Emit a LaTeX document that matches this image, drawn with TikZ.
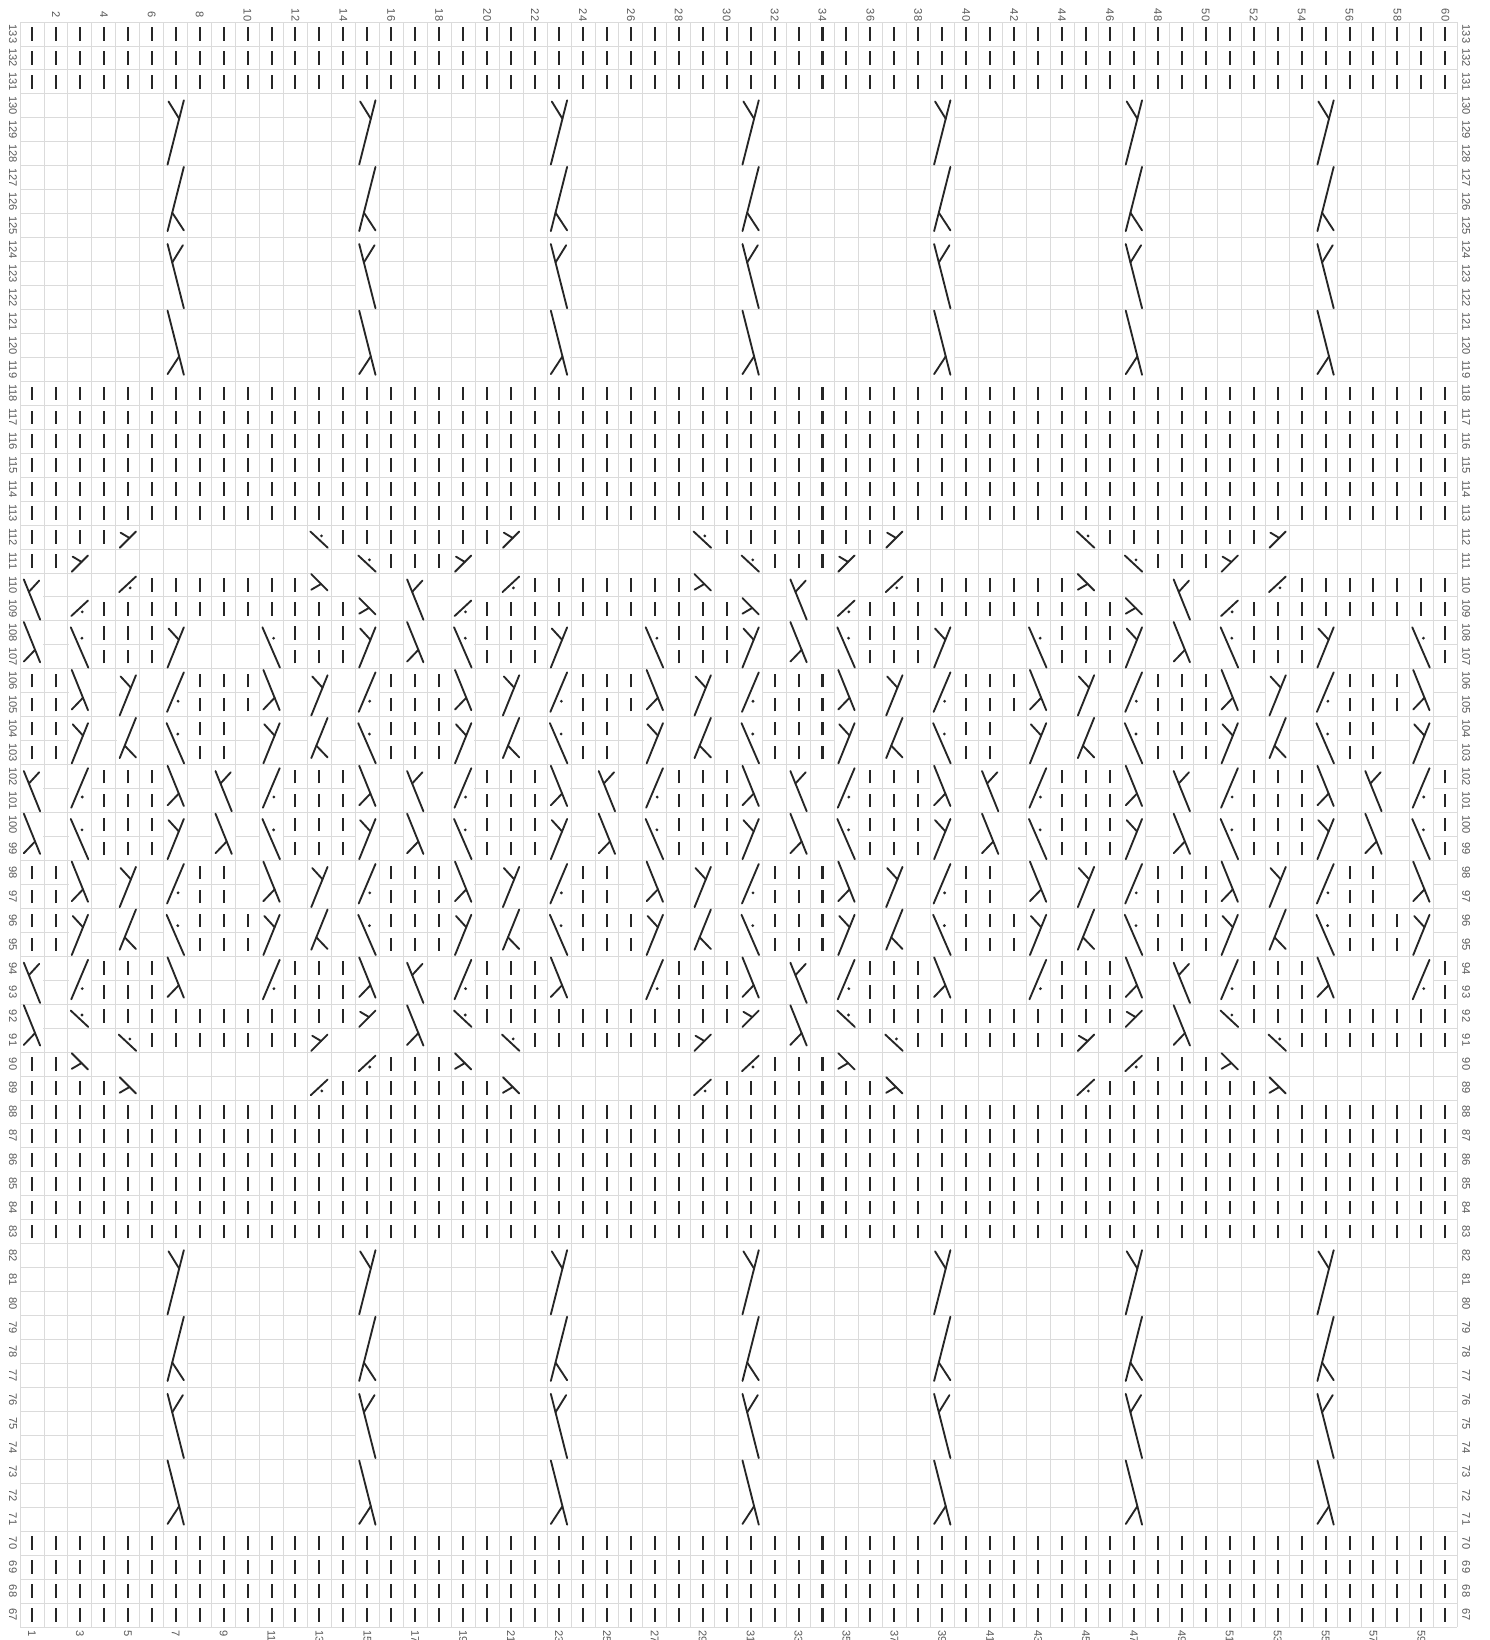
\documentclass[tikz,border=0pt]{standalone}
\usepackage{fontspec}
\setmainfont{Liberation Sans}

\tikzset{
  gridline/.style={gray!28, line width=0.5pt},
  knit/.style={black!85, line width=1.2pt},
  stitch/.style={black!85, line width=1.1pt, line cap=round},
  num/.style={font=\fontsize{6.6}{7}\selectfont, text=black!65, rotate=-90, inner sep=0pt}
}

% plain stitch: column #1, row #2
\newcommand{\chBar}[2]{\draw[knit] ({#1-0.5},{#2-0.78}) -- ({#1-0.5},{#2-0.22});}
% crossings: column #1, lowest row #2, #3 rows high
\newcommand{\chCell}[3]{\fill[white] ({#1-0.97},{#2-0.97}) rectangle ({#1-0.03},{#2+#3-1.03});}
\newcommand{\chSlTop}[3]{%
  \chCell{#1}{#2}{#3}
  \pgfmathsetmacro\chjf{1-(0.27+0.25*(#3-1))/(#3-0.32)}
  \draw[stitch] ({#1-0.84},{#2-0.95}) -- ({#1-0.16},{#2+#3-1.27}) coordinate[pos=\chjf] (jn);
  \draw[stitch] (jn) -- ({#1-0.8},{#2+#3-1.32});}
\newcommand{\chSlBot}[3]{%
  \chCell{#1}{#2}{#3}
  \pgfmathsetmacro\chjf{(0.27+0.25*(#3-1))/(#3-0.32)}
  \draw[stitch] ({#1-0.84},{#2-0.73}) -- ({#1-0.16},{#2+#3-1.05}) coordinate[pos=\chjf] (jn);
  \draw[stitch] (jn) -- ({#1-0.16},{#2-0.7});}
\newcommand{\chBkTop}[3]{%
  \chCell{#1}{#2}{#3}
  \pgfmathsetmacro\chjf{(0.27+0.25*(#3-1))/(#3-0.32)}
  \draw[stitch] ({#1-0.84},{#2+#3-1.27}) -- ({#1-0.16},{#2-0.95}) coordinate[pos=\chjf] (jn);
  \draw[stitch] (jn) -- ({#1-0.2},{#2+#3-1.32});}
\newcommand{\chBkBot}[3]{%
  \chCell{#1}{#2}{#3}
  \pgfmathsetmacro\chjf{1-(0.27+0.25*(#3-1))/(#3-0.32)}
  \draw[stitch] ({#1-0.84},{#2+#3-1.05}) -- ({#1-0.16},{#2-0.73}) coordinate[pos=\chjf] (jn);
  \draw[stitch] (jn) -- ({#1-0.84},{#2-0.7});}
\newcommand{\chBkDot}[3]{%
  \chCell{#1}{#2}{#3}
  \draw[stitch] ({#1-0.88},{#2+#3-1.27}) -- ({#1-0.15},{#2-0.95}) coordinate[pos=0.27] (dt);
  \fill[black!85] (dt) ++(0.27,0) circle[radius=0.065];}
\newcommand{\chSlDot}[3]{%
  \chCell{#1}{#2}{#3}
  \draw[stitch] ({#1-0.86},{#2-0.8}) -- ({#1-0.16},{#2+#3-1.15}) coordinate[pos=0.27] (dt);
  \fill[black!85] (dt) ++(0.27,0) circle[radius=0.065];}

\begin{document}
\begin{tikzpicture}[x=0.5cm, y=0.5cm]
  \useasboundingbox (-0.835,65.457) rectangle (61.336,133.919);
  \fill[white] (-0.835,65.457) rectangle (61.336,133.919);

  \draw[gridline, step=1] (0,66) grid (60,133);

  % numbers round the chart
  \foreach \c in {2,4,...,60}
    \node[num] (top-\c) at ({\c-0.5},133.29) {\c};
  \foreach \c in {1,3,...,59}
    \node[num, anchor=west] (bot-\c) at ({\c-0.5},65.87) {\c};
  \foreach \r in {67,...,133} {
    \node[num] (left-\r) at (-0.29,{\r-0.5}) {\r};
    \node[num] (right-\r) at (60.37,{\r-0.5}) {\r};
  }

  % plain bands
  \foreach \a/\b in {67/70, 83/88, 113/118, 131/133}
    \foreach \r in {\a,...,\b}
      \foreach \c in {1,...,60}
        \chBar{\c}{\r};

  % twisted columns
  \foreach \c in {7,15,...,55}
    \foreach \b in {119,71} {
      \chBkBot{\c}{\b}{3}
      \chBkTop{\c}{\b+3}{3}
      \chSlBot{\c}{\b+6}{3}
      \chSlTop{\c}{\b+9}{3}
    }

  % diamond band, repeat of 16 stitches
  \begin{scope}
    \clip (0,88) rectangle (60,112);
    \foreach \k in {0,16,32,48} {
      \foreach \r/\cols in {112/{1,2,3,4,14,15,16}, 111/{1,2,16}, 110/{6,...,12},
          109/{4,...,14}, 108/{4,5,6,12,13,14}, 107/{4,5,6,12,13,14},
          106/{1,2,8,9,10,16}, 105/{1,2,8,9,10,16}, 104/{1,2,8,9,16}, 103/{1,2,8,9,16},
          102/{4,5,6,12,13,14}, 101/{4,5,6,12,13,14}, 100/{4,5,6,12,13,14},
          99/{4,5,6,12,13,14}, 98/{1,2,8,9,16}, 97/{1,2,8,9,16},
          96/{1,2,8,9,10,16}, 95/{1,2,8,9,10,16}, 94/{4,5,6,12,13,14},
          93/{4,5,6,12,13,14}, 92/{4,...,14}, 91/{6,...,12}, 90/{1,2,16},
          89/{1,2,3,4,14,15,16}}
        \foreach \c in \cols
          \chBar{\c+\k}{\r};

      % one-row crossings
      \chSlTop{5+\k}{112}{1} \chBkDot{13+\k}{112}{1}
      \chSlTop{3+\k}{111}{1} \chBkDot{15+\k}{111}{1}
      \chSlDot{5+\k}{110}{1} \chBkBot{13+\k}{110}{1}
      \chSlDot{3+\k}{109}{1} \chBkBot{15+\k}{109}{1}
      \chBkDot{3+\k}{92}{1} \chSlTop{15+\k}{92}{1}
      \chBkDot{5+\k}{91}{1} \chSlTop{13+\k}{91}{1}
      \chBkBot{3+\k}{90}{1} \chSlDot{15+\k}{90}{1}
      \chBkBot{5+\k}{89}{1} \chSlDot{13+\k}{89}{1}

      % two-row crossings
      \chBkTop{1+\k}{109}{2}
      \chBkBot{1+\k}{107}{2} \chBkDot{3+\k}{107}{2} \chSlTop{7+\k}{107}{2}
      \chBkDot{11+\k}{107}{2} \chSlTop{15+\k}{107}{2}
      \foreach \r in {105,97} {
        \chBkBot{3+\k}{\r}{2} \chSlTop{5+\k}{\r}{2} \chSlDot{7+\k}{\r}{2}
        \chBkBot{11+\k}{\r}{2} \chSlTop{13+\k}{\r}{2} \chSlDot{15+\k}{\r}{2}
      }
      \foreach \r in {103,95} {
        \chSlTop{3+\k}{\r}{2} \chSlBot{5+\k}{\r}{2} \chBkDot{7+\k}{\r}{2}
        \chSlTop{11+\k}{\r}{2} \chSlBot{13+\k}{\r}{2} \chBkDot{15+\k}{\r}{2}
      }
      \chBkTop{1+\k}{101}{2} \chSlDot{3+\k}{101}{2} \chBkBot{7+\k}{101}{2}
      \chBkTop{9+\k}{101}{2} \chSlDot{11+\k}{101}{2} \chBkBot{15+\k}{101}{2}
      \chBkBot{1+\k}{99}{2} \chBkDot{3+\k}{99}{2} \chSlTop{7+\k}{99}{2}
      \chBkBot{9+\k}{99}{2} \chBkDot{11+\k}{99}{2} \chSlTop{15+\k}{99}{2}
      \chBkTop{1+\k}{93}{2} \chSlDot{3+\k}{93}{2} \chBkBot{7+\k}{93}{2}
      \chSlDot{11+\k}{93}{2} \chBkBot{15+\k}{93}{2}
      \chBkBot{1+\k}{91}{2}
    }
  \end{scope}
\end{tikzpicture}
\end{document}
